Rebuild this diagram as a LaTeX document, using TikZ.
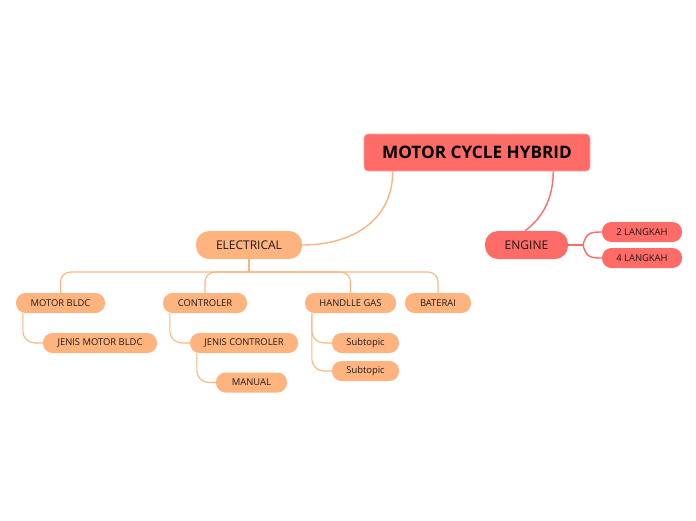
\documentclass[tikz,border=0pt]{standalone}
\usepackage{fontspec}
\setmainfont{Open Sans}
\definecolor{topicred}{HTML}{FF6B66}
\definecolor{topicpeach}{HTML}{FFB47F}
\definecolor{txtdark}{HTML}{1A1A1A}
\tikzset{
  rootbox/.style={fill=topicred, draw=topicred!60!white, line width=0.6pt, rounded corners=4pt,
    minimum width=226pt, minimum height=37pt, inner sep=0pt, font=\bfseries\fontsize{17.2}{20}\selectfont, text=black},
  mainred/.style={fill=topicred, rounded corners=13pt, minimum width=83pt, minimum height=28pt,
    inner sep=0pt, font=\fontsize{12}{14}\selectfont, text=txtdark},
  mainpeach/.style={mainred, fill=topicpeach, minimum width=106pt},
  subred/.style={fill=topicred, rounded corners=9.5pt, minimum height=20pt, inner sep=0pt,
    font=\fontsize{9.4}{11}\selectfont, text=txtdark},
  subpeach/.style={subred, fill=topicpeach},
  rlink/.style={draw=topicred, line width=1.4pt},
  plink/.style={draw=topicpeach, line width=1.4pt},
  sublink/.style={draw=topicpeach, line width=1.1pt}
}
\begin{document}
\begin{tikzpicture}[x=1pt, y=-1pt]
  \useasboundingbox (0,0) rectangle (696,520);
  % topics
  \node[rootbox] (root) at (477,152.5) {MOTOR CYCLE HYBRID};
  \node[mainpeach] (elec) at (249,245) {ELECTRICAL};
  \node[mainred] (engine) at (526.5,245) {ENGINE};
  \node[subred, minimum width=80pt] (lk2) at (642,232) {2 LANGKAH};
  \node[subred, minimum width=80pt] (lk4) at (642,258) {4 LANGKAH};
  \node[subpeach, minimum width=89pt] (bldc) at (60.5,303) {MOTOR BLDC};
  \node[subpeach, minimum width=114pt] (jbldc) at (100,343) {JENIS MOTOR BLDC};
  \node[subpeach, minimum width=84pt] (ctrl) at (205,303) {CONTROLER};
  \node[subpeach, minimum width=108pt] (jctrl) at (244,343) {JENIS CONTROLER};
  \node[subpeach, minimum width=71pt] (manual) at (251.5,382.5) {MANUAL};
  \node[subpeach, minimum width=91pt] (gas) at (350.5,303) {HANDLLE GAS};
  \node[subpeach, minimum width=67pt] (sub1) at (365.5,343) {Subtopic};
  \node[subpeach, minimum width=67pt] (sub2) at (365.5,371) {Subtopic};
  \node[subpeach, minimum width=66pt] (bat) at (438,303) {BATERAI};
  \coordinate (bus) at (249,272);
  \coordinate (efork) at (583,245);
  % links
  \draw[plink] ([xshift=29pt]root.south west) .. controls (393,218) and (355,245) .. (elec.east);
  \draw[rlink] ([xshift=-37pt]root.south east) .. controls (553,200) and (542,218) .. ([xshift=-1.5pt]engine.north);
  \draw[rlink] (engine.east) -- (efork);
  \draw[rlink] (efork) .. controls (586,233) and (590,232) .. (lk2.west);
  \draw[rlink] (efork) .. controls (586,257) and (590,258) .. (lk4.west);
  \draw[sublink] (elec.south) -- (bus);
  \draw[sublink, rounded corners=10pt] (bldc.north) |- (bus) -| (bat.north);
  \draw[sublink, rounded corners=10pt] (ctrl.north) |- (bus);
  \draw[sublink, rounded corners=10pt] (gas.north) |- (bus);
  \draw[sublink, rounded corners=12pt] ([xshift=7pt]bldc.south west) |- (jbldc.west);
  \draw[sublink, rounded corners=12pt] ([xshift=7pt]ctrl.south west) |- (jctrl.west);
  \draw[sublink, rounded corners=12pt] ([xshift=7pt]jctrl.south west) |- (manual.west);
  \draw[sublink, rounded corners=12pt] ([xshift=7pt]gas.south west) |- (sub1.west);
  \draw[sublink, rounded corners=12pt] ([xshift=7pt]gas.south west) |- (sub2.west);
\end{tikzpicture}
\end{document}
